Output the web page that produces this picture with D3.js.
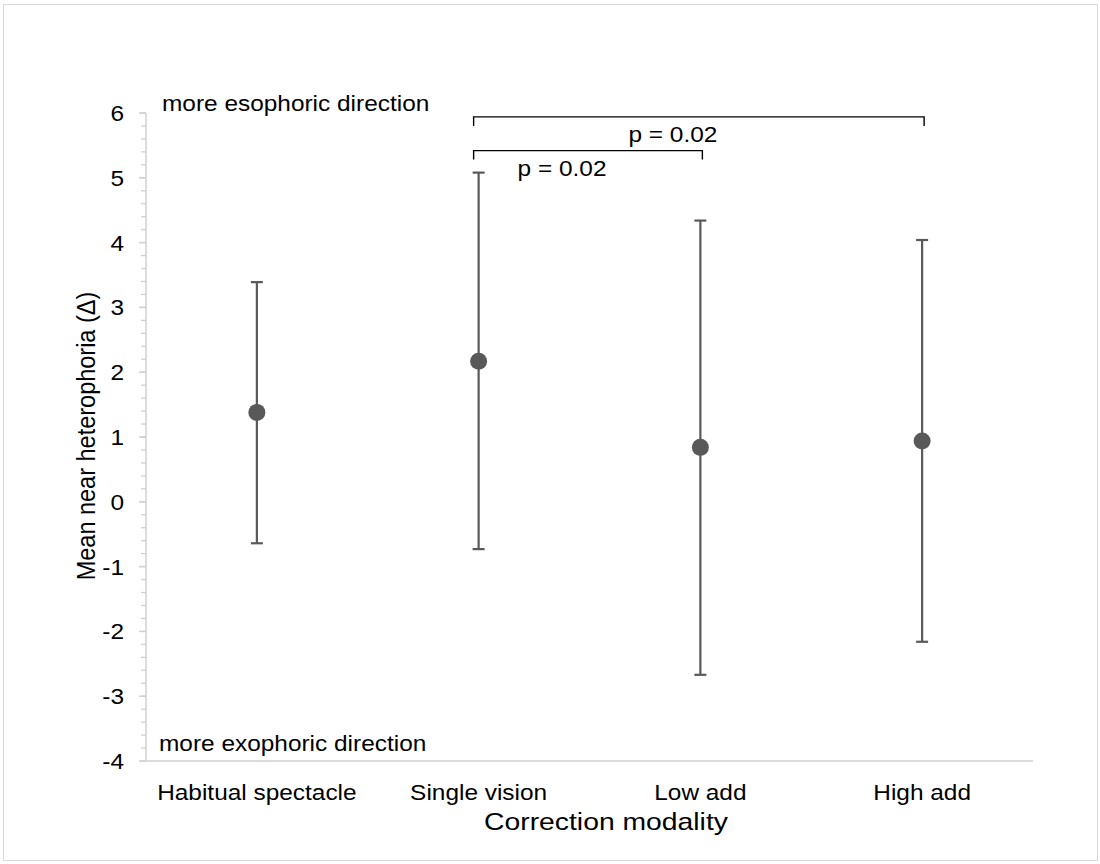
<!DOCTYPE html>
<html>
<head>
<meta charset="utf-8">
<script src="https://cdn.jsdelivr.net/npm/d3@7"></script>
<style>
  body { margin: 0; background: #fff; }
  text { font-family: "Liberation Sans", Arial, sans-serif; fill: #000; }
</style>
</head>
<body>
<div id="chart"></div>
<script>
const width = 1100;
const height = 864;

// Data
const categories = ["Habitual spectacle", "Single vision", "Low add", "High add"];
const means = [1.38, 2.17, 0.84, 0.94];
const upper = [3.39, 5.08, 4.34, 4.04];
const lower = [-0.64, -0.73, -2.67, -2.16];
const yTicks = [-4, -3, -2, -1, 0, 1, 2, 3, 4, 5, 6];
const comparisons = [
    {from: "Single vision", to: "High add", level: 5.94, label: "p = 0.02"},
    {from: "Single vision", to: "Low add", level: 5.42, label: "p = 0.02"}
];

const sx = 1.11; // text in the picture is a bit stretched sideways

const svg = d3.select("#chart")
    .append("svg")
    .attr("width", width)
    .attr("height", height);

// outer frame
svg.append("rect")
    .attr("x", 3.5).attr("y", 4.5)
    .attr("width", 1094).attr("height", 856)
    .attr("fill", "none")
    .attr("stroke", "#d9d9d9");

const x = d3.scaleBand().domain(categories).range([146, 1033]);
const y = d3.scaleLinear().domain([-4, 6]).range([761, 113]);

function label(g, tx, ty, str, size, anchor, stretch) {
    return g.append("text")
        .attr("transform", `translate(${tx},${ty}) scale(${stretch || sx},1)`)
        .attr("text-anchor", anchor || "start")
        .style("font-size", size + "px")
        .text(str);
}

// y axis with minor ticks
const axisColor = "#d0d0d0";
const minor = d3.range(-4, 6.001, 0.2);
svg.append("line")
    .attr("x1", 146).attr("x2", 146)
    .attr("y1", y(6)).attr("y2", y(-4))
    .attr("stroke", axisColor).attr("stroke-width", 1.5);
svg.selectAll(".minor")
    .data(minor)
    .enter().append("line")
    .attr("x1", 141).attr("x2", 146)
    .attr("y1", d => y(d)).attr("y2", d => y(d))
    .attr("stroke", axisColor).attr("stroke-width", 1.3);
svg.selectAll(".major")
    .data(yTicks)
    .enter().append("line")
    .attr("x1", 139).attr("x2", 146)
    .attr("y1", d => y(d)).attr("y2", d => y(d))
    .attr("stroke", axisColor).attr("stroke-width", 1.5);
yTicks.forEach(t => label(svg, 124, y(t) + 8, String(t), 22, "end"));

// x axis line
svg.append("line")
    .attr("x1", 146).attr("x2", 1033)
    .attr("y1", y(-4)).attr("y2", y(-4))
    .attr("stroke", axisColor).attr("stroke-width", 1.5);
categories.forEach(c => label(svg, x(c) + x.bandwidth() / 2, 800, c, 22, "middle"));

// axis titles
label(svg, 606, 830, "Correction modality", 24, "middle", 1.18);
svg.append("text")
    .attr("transform", `translate(95,436) rotate(-90) scale(1,${sx})`)
    .attr("text-anchor", "middle")
    .style("font-size", "23.5px")
    .text("Mean near heterophoria (\u0394)");

// direction notes
label(svg, 162, 111, "more esophoric direction", 22);
label(svg, 159, 751, "more exophoric direction", 22);

// error bars
const barColor = "#595959";
const cx = i => x(categories[i]) + x.bandwidth() / 2;
const g = svg.append("g");
g.selectAll(".err")
    .data(means)
    .enter().append("line")
    .attr("x1", (d, i) => cx(i)).attr("x2", (d, i) => cx(i))
    .attr("y1", (d, i) => y(upper[i])).attr("y2", (d, i) => y(lower[i]))
    .attr("stroke", barColor).attr("stroke-width", 2.2);
[upper, lower].forEach(arr => {
    g.selectAll(null)
        .data(arr)
        .enter().append("line")
        .attr("x1", (d, i) => cx(i) - 6).attr("x2", (d, i) => cx(i) + 6)
        .attr("y1", d => y(d)).attr("y2", d => y(d))
        .attr("stroke", barColor).attr("stroke-width", 2.2);
});
g.selectAll(".pt")
    .data(means)
    .enter().append("circle")
    .attr("cx", (d, i) => cx(i))
    .attr("cy", d => y(d))
    .attr("r", 8.5)
    .attr("fill", barColor);

// significance brackets
comparisons.forEach(c => {
    const x1 = x(c.from) + x.bandwidth() / 2 - 5;
    const x2 = x(c.to) + x.bandwidth() / 2 + 2;
    const yy = y(c.level);
    svg.append("path")
        .attr("d", `M${x1},${yy + 9}V${yy}H${x2}V${yy + 9}`)
        .attr("fill", "none")
        .attr("stroke", "#000")
        .attr("stroke-width", 1.4);
    label(svg, (x1 + x2) / 2 - 26, yy + 25, c.label, 22, "middle");
});
</script>
</body>
</html>
